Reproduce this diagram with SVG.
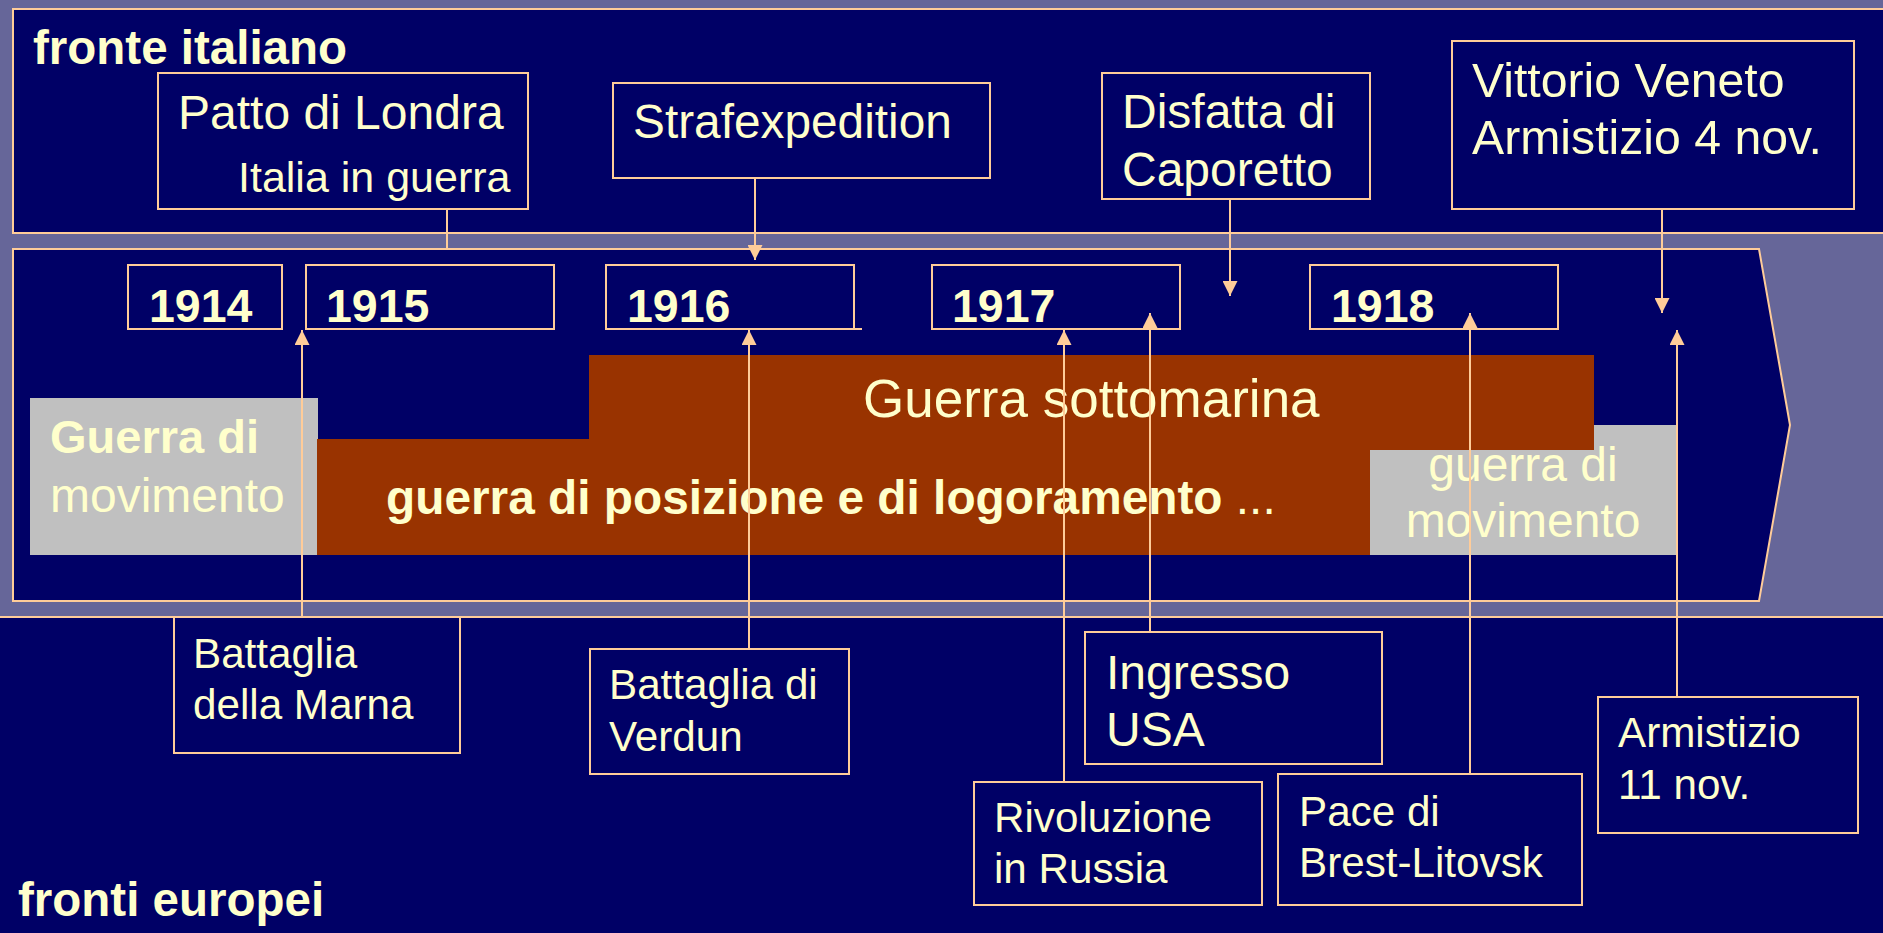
<svg xmlns="http://www.w3.org/2000/svg" width="1883" height="933" viewBox="0 0 1883 933">
<style>
.bg{fill:#666699}
.panel{fill:#000066;stroke:#FFCC99;stroke-width:2}
.box{fill:#000066;stroke:#FFCC99;stroke-width:2}
.t{font-family:"Liberation Sans",Arial,sans-serif;fill:#FFFFCC}
.b{font-weight:bold}
.conn{stroke:#FFCC99;stroke-width:2;fill:none}
.brown{fill:#993300}
.gray{fill:#C0C0C0}
</style>
<defs>
<marker id="arr" markerUnits="userSpaceOnUse" markerWidth="15" markerHeight="15" refX="15" refY="7.5" orient="auto">
<path d="M0,0 L15,7.5 L0,15 z" fill="#FFCC99"/>
</marker>
</defs>
<rect class="bg" x="0" y="0" width="1883" height="933"/>
<g id="panels">
<rect id="panel-italiano" class="panel" x="13" y="9" width="1890" height="224"/>
<path id="panel-timeline" class="panel" d="M13,249 L1759,249 L1790,425 L1759,601 L13,601 Z"/>
<rect id="panel-europei" class="panel" x="-5" y="617" width="1900" height="330"/>
<text class="t b" x="33" y="64" font-size="47.5">fronte italiano</text>
<text class="t b" x="18" y="916" font-size="47.5">fronti europei</text>
</g>
<g id="phases">
<rect class="gray" x="1370" y="425" width="307" height="130"/>
<rect class="gray" x="30" y="398" width="288" height="157"/>
<rect class="brown" x="317" y="439" width="1053" height="116"/>
<rect class="brown" x="589" y="355" width="1005" height="95"/>
<text class="t b" x="50" y="453" font-size="47">Guerra di</text>
<text class="t" x="50" y="512" font-size="48">movimento</text>
<text class="t" x="863" y="417" font-size="53">Guerra sottomarina</text>
<text class="t" x="386" y="514" font-size="47.8"><tspan class="b">guerra di posizione e di logoramento</tspan> ...</text>
<text class="t" x="1523" y="481" font-size="48" text-anchor="middle">guerra di</text>
<text class="t" x="1523" y="537" font-size="48" text-anchor="middle">movimento</text>
</g>
<g id="years">
<g id="y1914"><rect class="box" x="128" y="265" width="154" height="64"/><text class="t b" x="149" y="322" font-size="46.5">1914</text></g>
<g id="y1915"><rect class="box" x="306" y="265" width="248" height="64"/><text class="t b" x="326" y="322" font-size="46.5">1915</text></g>
<g id="y1916"><path class="box" d="M854,329 L606,329 L606,265 L854,265 L854,329 L862,329"/><text class="t b" x="627" y="322" font-size="46.5">1916</text></g>
<g id="y1917"><rect class="box" x="932" y="265" width="248" height="64"/><text class="t b" x="952" y="322" font-size="46.5">1917</text></g>
<g id="y1918"><rect class="box" x="1310" y="265" width="248" height="64"/><text class="t b" x="1331" y="322" font-size="46.5">1918</text></g>
</g>
<g id="n-patto"><rect class="box" x="158" y="73" width="370" height="136"/>
<text class="t" x="178" y="129" font-size="48">Patto di Londra</text>
<text class="t" x="238" y="192" font-size="43">Italia in guerra</text></g>
<g id="n-strafexpedition"><rect class="box" x="613" y="83" width="377" height="95"/>
<text class="t" x="633" y="138" font-size="47.8">Strafexpedition</text></g>
<g id="n-caporetto"><rect class="box" x="1102" y="73" width="268" height="126"/>
<text class="t" x="1122" y="128" font-size="48">Disfatta di</text>
<text class="t" x="1122" y="186" font-size="48">Caporetto</text></g>
<g id="n-vittorio"><rect class="box" x="1452" y="41" width="402" height="168"/>
<text class="t" x="1472" y="97" font-size="48.2">Vittorio Veneto</text>
<text class="t" x="1472" y="154" font-size="48.2">Armistizio 4 nov.</text></g>
<g id="n-marna"><rect class="box" x="174" y="617" width="286" height="136"/>
<text class="t" x="193" y="668" font-size="42.2">Battaglia</text>
<text class="t" x="193" y="719" font-size="42.2">della Marna</text></g>
<g id="n-verdun"><rect class="box" x="590" y="649" width="259" height="125"/>
<text class="t" x="609" y="699" font-size="42.2">Battaglia di</text>
<text class="t" x="609" y="751" font-size="42.2">Verdun</text></g>
<g id="n-usa"><rect class="box" x="1085" y="632" width="297" height="132"/>
<text class="t" x="1106" y="689" font-size="48">Ingresso</text>
<text class="t" x="1106" y="746" font-size="48">USA</text></g>
<g id="n-russia"><rect class="box" x="974" y="782" width="288" height="123"/>
<text class="t" x="994" y="832" font-size="42.2">Rivoluzione</text>
<text class="t" x="994" y="883" font-size="42.2">in Russia</text></g>
<g id="n-brest"><rect class="box" x="1278" y="774" width="304" height="131"/>
<text class="t" x="1299" y="826" font-size="42.2">Pace di</text>
<text class="t" x="1299" y="877" font-size="42.2">Brest-Litovsk</text></g>
<g id="n-armistizio"><rect class="box" x="1598" y="697" width="260" height="136"/>
<text class="t" x="1618" y="747" font-size="42.2">Armistizio</text>
<text class="t" x="1618" y="799" font-size="42.2">11 nov.</text></g>
<g id="connectors">
<line class="conn" x1="447" y1="209" x2="447" y2="249"/>
<line class="conn" x1="755" y1="178" x2="755" y2="260" marker-end="url(#arr)"/>
<line class="conn" x1="1230" y1="199" x2="1230" y2="296" marker-end="url(#arr)"/>
<line class="conn" x1="1662" y1="209" x2="1662" y2="313" marker-end="url(#arr)"/>
<line class="conn" x1="302" y1="617" x2="302" y2="330" marker-end="url(#arr)"/>
<line class="conn" x1="749" y1="649" x2="749" y2="330" marker-end="url(#arr)"/>
<line class="conn" x1="1064" y1="782" x2="1064" y2="330" marker-end="url(#arr)"/>
<line class="conn" x1="1150" y1="632" x2="1150" y2="313" marker-end="url(#arr)"/>
<line class="conn" x1="1470" y1="774" x2="1470" y2="313" marker-end="url(#arr)"/>
<line class="conn" x1="1677" y1="697" x2="1677" y2="330" marker-end="url(#arr)"/>
</g>
</svg>
